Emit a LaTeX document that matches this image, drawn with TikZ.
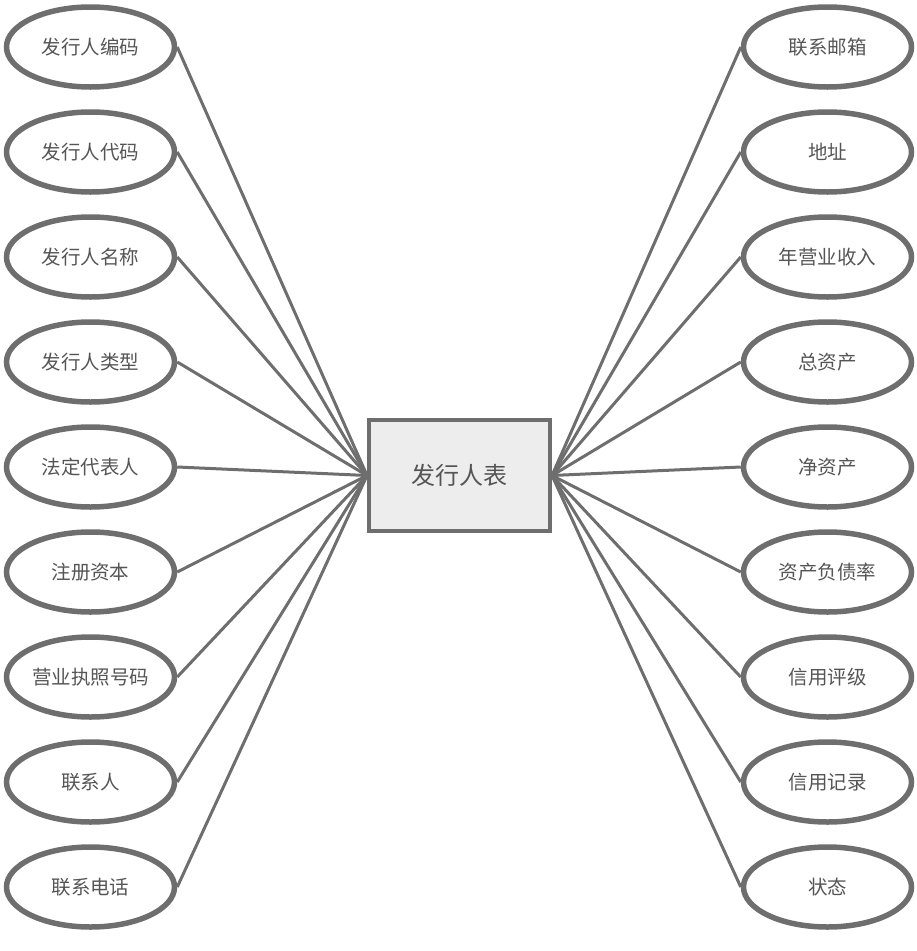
\documentclass[tikz,border=0pt]{standalone}
\usepackage{fontspec}
\setmainfont{Noto Sans CJK SC}
\usetikzlibrary{shapes.geometric}
\definecolor{edge}{HTML}{6E6E6E}
\definecolor{txt}{HTML}{555555}
\definecolor{boxfill}{HTML}{EDEDED}
\begin{document}
\begin{tikzpicture}[x=1pt,y=-1pt,
  attr/.style={ellipse,draw=edge,line width=5.5pt,minimum width=168pt,minimum height=80pt,inner sep=0pt,text=txt,font=\fontsize{19.5pt}{22pt}\selectfont},
  ent/.style={rectangle,draw=edge,line width=4pt,fill=boxfill,minimum width=181pt,minimum height=111pt,inner sep=0pt,text=txt,font=\fontsize{24pt}{28pt}\selectfont},
  link/.style={draw=edge,line width=3pt}]
\useasboundingbox (0,0) rectangle (917,951);
\node[ent] (E) at (459.5,475.5) {发行人表};
\node[attr] (L1) at (90.5,47) {发行人编码};
\node[attr] (L2) at (90.5,152) {发行人代码};
\node[attr] (L3) at (90.5,257) {发行人名称};
\node[attr] (L4) at (90.5,362) {发行人类型};
\node[attr] (L5) at (90.5,467) {法定代表人};
\node[attr] (L6) at (90.5,572) {注册资本};
\node[attr] (L7) at (90.5,677) {营业执照号码};
\node[attr] (L8) at (90.5,782) {联系人};
\node[attr] (L9) at (90.5,887) {联系电话};
\node[attr] (R1) at (827.5,47) {联系邮箱};
\node[attr] (R2) at (827.5,152) {地址};
\node[attr] (R3) at (827.5,257) {年营业收入};
\node[attr] (R4) at (827.5,362) {总资产};
\node[attr] (R5) at (827.5,467) {净资产};
\node[attr] (R6) at (827.5,572) {资产负债率};
\node[attr] (R7) at (827.5,677) {信用评级};
\node[attr] (R8) at (827.5,782) {信用记录};
\node[attr] (R9) at (827.5,887) {状态};
\foreach \i in {1,...,9}{
  \draw[link] (L\i.east) -- (E.west);
  \draw[link] (R\i.west) -- (E.east);
}
\end{tikzpicture}
\end{document}
